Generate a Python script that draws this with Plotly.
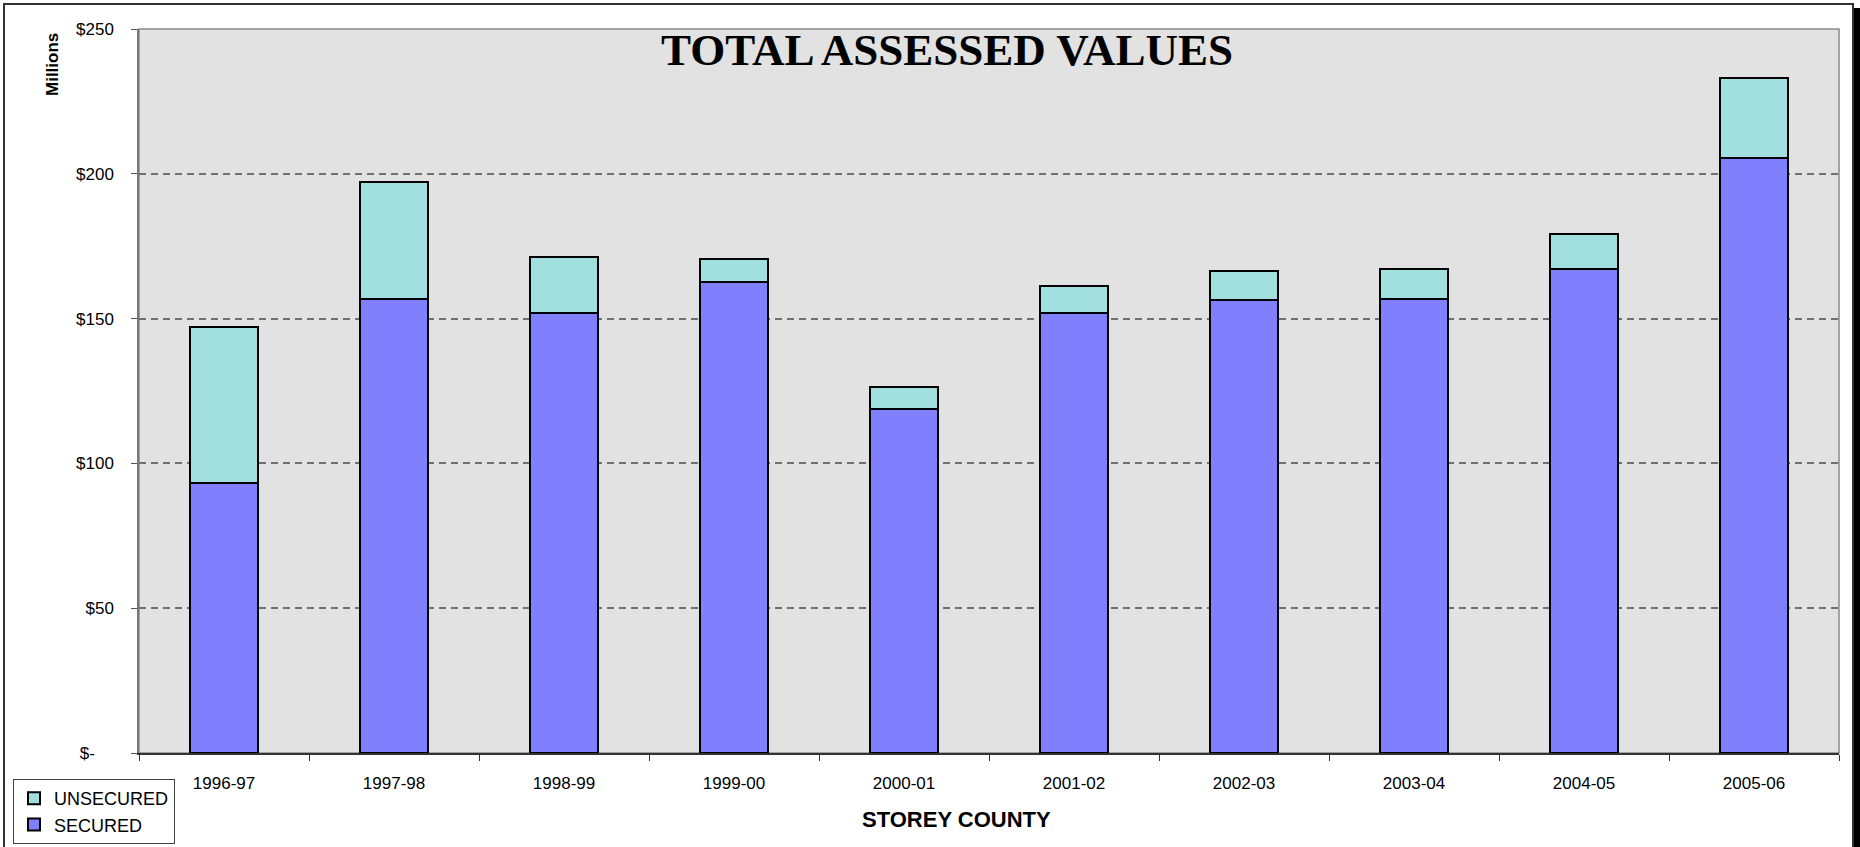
import plotly.graph_objects as go

years = ["1996-97", "1997-98", "1998-99", "1999-00", "2000-01",
         "2001-02", "2002-03", "2003-04", "2004-05", "2005-06"]
secured = [93.2, 156.7, 151.8, 162.6, 118.9, 152.0, 156.4, 156.7, 167.1, 205.3]
unsecured = [54.0, 40.5, 19.5, 8.1, 7.6, 9.3, 10.1, 10.3, 12.1, 27.8]
ytick_vals = [0, 50, 100, 150, 200, 250]
ytick_text = ["$-\u00a0\u00a0\u00a0\u00a0", "$50", "$100", "$150", "$200", "$250"]

W, H = 1860, 847
L, R, T, B = 139, 21, 29, 94
pw, ph = W - L - R, H - T - B

def px(x):
    return (x - L) / pw

def py(y):
    return (H - B - y) / ph

fig = go.Figure()
fig.add_trace(go.Bar(x=years, y=secured, name="SECURED",
                     marker=dict(color="#8080FF", line=dict(color="black", width=2))))
fig.add_trace(go.Bar(x=years, y=unsecured, name="UNSECURED",
                     marker=dict(color="#A2DFDF", line=dict(color="black", width=2))))

fig.update_layout(
    width=W, height=H,
    barmode="stack", bargap=0.6,
    paper_bgcolor="white", plot_bgcolor="#E2E2E2",
    margin=dict(l=L, r=R, t=T, b=B, autoexpand=False),
    font=dict(family="Arial, Liberation Sans, sans-serif", size=17, color="black"),
    showlegend=True,
    legend=dict(x=px(13), y=py(779), xanchor="left", yanchor="top",
                traceorder="reversed", bgcolor="white",
                bordercolor="#404040", borderwidth=1,
                font=dict(size=18)),
    xaxis=dict(type="category", tickson="boundaries", ticks="outside", ticklen=6,
               tickcolor="#333", showline=True, linecolor="#333", linewidth=1.5,
               showgrid=False, tickfont=dict(size=17), ticklabelstandoff=14),
    yaxis=dict(range=[0, 250], tickvals=ytick_vals, ticktext=ytick_text,
               ticks="outside", ticklen=6, tickcolor="#555",
               showline=True, linecolor="#777", linewidth=1.5,
               showgrid=True, gridcolor="#707070", gridwidth=1.5, griddash="7px,5px",
               zeroline=False, ticklabelstandoff=14, tickfont=dict(size=17)),
)

# plot area border (top/right grey)
fig.add_shape(type="rect", xref="paper", yref="paper", x0=0, x1=1, y0=0, y1=1,
              line=dict(color="#8a8a8a", width=1.5), layer="below")
# outer chart border and shadow
fig.add_shape(type="rect", xref="paper", yref="paper",
              x0=px(4), x1=px(1853), y0=py(851), y1=py(4),
              line=dict(color="#333", width=2))
fig.add_shape(type="rect", xref="paper", yref="paper",
              x0=px(1854), x1=px(1862), y0=py(851), y1=py(8),
              fillcolor="black", line=dict(width=0))

fig.add_annotation(text="<b>TOTAL ASSESSED VALUES</b>", xref="paper", yref="paper",
                   x=px(947), y=py(50), showarrow=False, xanchor="center", yanchor="middle",
                   font=dict(family="Liberation Serif, Times New Roman, serif", size=45))
fig.add_annotation(text="<b>STOREY COUNTY</b>", xref="paper", yref="paper",
                   x=px(956), y=py(819), showarrow=False, xanchor="center", yanchor="middle",
                   font=dict(size=22))
fig.add_annotation(text="<b>Millions</b>", xref="paper", yref="paper",
                   x=px(53), y=py(65), showarrow=False, textangle=-90,
                   xanchor="center", yanchor="middle", font=dict(size=17))

# page has default body margin; remove it so the chart fills the window
fig.write_html("out.html", config={"displayModeBar": False},
               post_script="document.body.style.margin='0';document.body.style.overflow='hidden';")
